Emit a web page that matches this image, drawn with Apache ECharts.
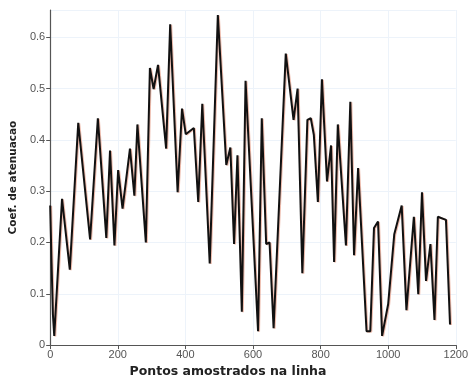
<!DOCTYPE html>
<html><head><meta charset="utf-8">
<script src="https://cdn.jsdelivr.net/npm/echarts@6/dist/echarts.min.js"></script>
<style>html,body{margin:0;padding:0;background:#fff}#c{width:471px;height:383px}</style>
</head><body><div id="c"></div>
<script>
const xTicks = [0, 200, 400, 600, 800, 1000, 1200];
const xValues = [0, 4, 8, 12, 35, 58, 83, 118, 141, 166, 177, 190, 201, 214, 236, 249, 258, 283, 295, 306, 319, 343, 355, 377, 390, 401, 425, 438, 450, 472, 496, 521, 533, 544, 554, 567, 578, 615, 626, 639, 649, 661, 697, 720, 732, 746, 761, 771, 780, 792, 804, 819, 831, 840, 851, 875, 888, 899, 911, 936, 947, 958, 970, 982, 1000, 1018, 1040, 1054, 1076, 1089, 1100, 1112, 1125, 1137, 1147, 1171, 1183];
const yValues = [0.272, 0.16, 0.06, 0.018, 0.285, 0.147, 0.433, 0.206, 0.442, 0.209, 0.379, 0.194, 0.341, 0.266, 0.383, 0.291, 0.430, 0.200, 0.540, 0.499, 0.546, 0.383, 0.625, 0.298, 0.461, 0.411, 0.423, 0.279, 0.470, 0.159, 0.643, 0.351, 0.385, 0.197, 0.370, 0.065, 0.515, 0.027, 0.442, 0.197, 0.200, 0.033, 0.568, 0.439, 0.500, 0.140, 0.439, 0.442, 0.410, 0.279, 0.518, 0.319, 0.389, 0.162, 0.430, 0.194, 0.474, 0.175, 0.345, 0.027, 0.027, 0.228, 0.241, 0.018, 0.08, 0.216, 0.272, 0.068, 0.250, 0.099, 0.298, 0.125, 0.197, 0.049, 0.250, 0.244, 0.040];
const xName = 'Pontos amostrados na linha';
const yName = 'Coef. de atenuacao';

const chart = echarts.init(document.getElementById('c'), null, {renderer: 'canvas'});
chart.setOption({
  animation: false,
  backgroundColor: '#fff',
  grid: {left: 48, right: 13, top: 10, bottom: 27},
  xAxis: {
    type: 'value', min: xTicks[0], max: xTicks[xTicks.length - 1], interval: 200,
    name: xName, nameLocation: 'middle', nameGap: 18,
    nameTextStyle: {fontFamily: 'DejaVu Sans', fontWeight: 'bold', fontSize: 12.5, color: '#222', padding: [0, 50, 0, 0]},
    axisLine: {lineStyle: {color: '#555', width: 1.2}},
    axisTick: {show: true, length: 4, lineStyle: {color: '#555'}},
    axisLabel: {color: '#555', fontSize: 11, fontFamily: 'Liberation Sans', margin: 4,
      formatter: v => String(v)},
    splitLine: {show: true, lineStyle: {color: '#edf3fa', width: 1}}
  },
  yAxis: {
    type: 'value', min: 0, max: 0.653, interval: 0.1,
    name: yName, nameLocation: 'middle', nameGap: 27, nameRotate: 90,
    nameTextStyle: {fontFamily: 'DejaVu Sans', fontWeight: 'bold', fontSize: 10.5, color: '#222'},
    axisLine: {show: true, lineStyle: {color: '#555', width: 1.2}},
    axisTick: {show: true, length: 4, lineStyle: {color: '#555'}},
    axisLabel: {color: '#555', fontSize: 11, fontFamily: 'Liberation Sans', margin: 5,
      formatter: v => (Math.abs(v) < 1e-9 ? '0' : v.toFixed(1)), showMaxLabel: false},
    splitLine: {show: true, lineStyle: {color: '#edf3fa', width: 1}}
  },
  series: [{
    type: 'line',
    data: xValues.map((x, i) => [x, yValues[i]]),
    showSymbol: false,
    lineStyle: {color: '#111', width: 2, shadowColor: 'rgba(220,120,90,0.5)', shadowOffsetX: 1, shadowOffsetY: 0.5, shadowBlur: 0}
  }]
});
</script></body></html>
